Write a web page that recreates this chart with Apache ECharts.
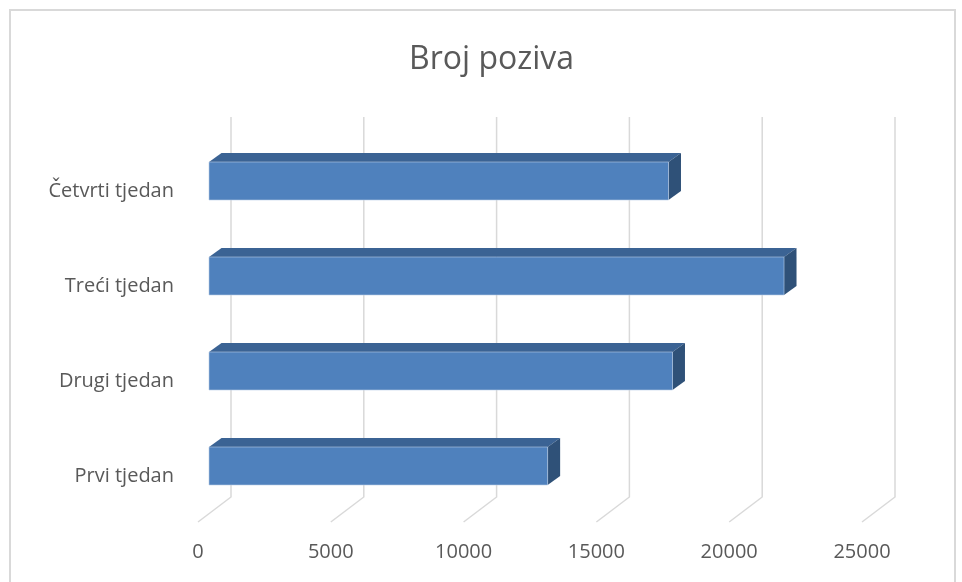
<!DOCTYPE html>
<html>
<head>
<meta charset="utf-8">
<script src="https://cdn.jsdelivr.net/npm/echarts@6/dist/echarts.min.js"></script>
<style>
  html, body { margin: 0; padding: 0; background: #fff; }
  #main { width: 962px; height: 582px; }
</style>
</head>
<body>
<div id="main"></div>
<script>
const categories = ['Prvi tjedan', 'Drugi tjedan', 'Treći tjedan', 'Četvrti tjedan'];
const calls = [12750, 17450, 21650, 17300];
const xTicks = [0, 5000, 10000, 15000, 20000, 25000];

// 3d look: offsets in px
const FLOOR_DX = 33, FLOOR_DY = 25;   // front floor -> back wall
const BAR_X = 11;                      // bar front face shift from front floor
const DEPTH_DX = 12.5, DEPTH_DY = -9;  // bar depth

const chart = echarts.init(document.getElementById('main'));

function renderGrid(params, api) {
  const cs = params.coordSys;
  const p = api.coord([api.value(0), 0]);
  const x = p[0];
  const backBottom = cs.y + cs.height - 16.5;
  const top = cs.y - 16.5;
  return {
    type: 'polyline',
    shape: { points: [[x + FLOOR_DX, top], [x + FLOOR_DX, backBottom], [x, backBottom + FLOOR_DY]] },
    style: { stroke: '#d9d9d9', lineWidth: 1.5, fill: null }
  };
}

function renderBar(params, api) {
  const v = api.value(0);
  const c = api.value(1);
  const start = api.coord([0, c]);
  const end = api.coord([v, c]);
  const h = api.size([0, 1])[1] * 0.4;
  const x0 = start[0] + BAR_X, x1 = end[0] + BAR_X;
  const y0 = start[1] - h / 2, y1 = start[1] + h / 2;
  return {
    type: 'group',
    children: [
      {
        type: 'polygon',
        shape: { points: [[x0, y0], [x0 + DEPTH_DX, y0 + DEPTH_DY], [x1 + DEPTH_DX, y0 + DEPTH_DY], [x1, y0]] },
        style: { fill: '#3b6394' }
      },
      {
        type: 'polygon',
        shape: { points: [[x1, y0], [x1 + DEPTH_DX, y0 + DEPTH_DY], [x1 + DEPTH_DX, y1 + DEPTH_DY], [x1, y1]] },
        style: { fill: '#2f5178' }
      },
      {
        type: 'rect',
        shape: { x: x0, y: y0, width: x1 - x0, height: h },
        style: { fill: '#4f81bd', stroke: '#b9cde5', lineWidth: 0.6 }
      }
    ]
  };
}

const option = {
  backgroundColor: '#fff',
  title: {
    text: 'Broj poziva',
    left: 404,
    top: 39,
    textStyle: { fontFamily: 'Open Sans', fontSize: 32, fontWeight: 'normal', color: '#595959' }
  },
  graphic: [{
    type: 'rect',
    shape: { x: 10, y: 10, width: 945, height: 590 },
    style: { fill: null, stroke: '#d9d9d9', lineWidth: 2 },
    silent: true
  }],
  grid: { left: 198, right: 100, top: 133.5, bottom: 68.5 },
  xAxis: {
    type: 'value',
    min: 0,
    max: 25000,
    interval: 5000,
    axisLine: { show: false },
    axisTick: { show: false },
    splitLine: { show: false },
    axisLabel: {
      margin: 29, fontFamily: 'Open Sans', fontSize: 20, color: '#595959',
      formatter: v => String(v)
    }
  },
  yAxis: {
    type: 'category',
    data: categories,
    axisLine: { show: false },
    axisTick: { show: false },
    axisLabel: {
      margin: 24, verticalAlign: 'top', lineHeight: 20,
      fontFamily: 'Open Sans', fontSize: 20, color: '#595959'
    }
  },
  series: [
    {
      type: 'custom',
      renderItem: renderGrid,
      data: xTicks.map(t => [t]),
      encode: { x: 0 },
      silent: true,
      z: 1
    },
    {
      type: 'custom',
      renderItem: renderBar,
      data: calls.map((v, i) => [v, i]),
      encode: { x: 0, y: 1 },
      z: 2
    }
  ]
};

chart.setOption(option);
</script>
</body>
</html>
